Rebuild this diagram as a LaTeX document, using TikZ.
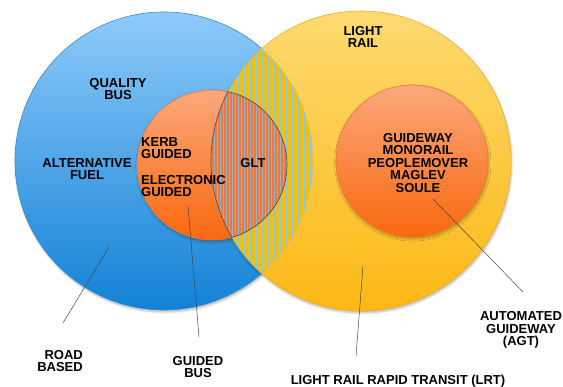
\documentclass[tikz,border=0pt]{standalone}
\usepackage{fontspec}
\setmainfont{Liberation Sans}
\usetikzlibrary{shadows.blur}

\definecolor{bluetop}{RGB}{142,202,250}
\definecolor{bluebot}{RGB}{18,130,214}
\definecolor{blueedge}{RGB}{60,140,200}
\definecolor{yeltop}{RGB}{253,218,112}
\definecolor{yelbot}{RGB}{252,184,20}
\definecolor{yeledge}{RGB}{235,175,40}
\definecolor{orgtop}{RGB}{251,168,124}
\definecolor{orgbot}{RGB}{250,104,14}
\definecolor{orgedge}{RGB}{235,120,60}
\definecolor{stripeblue}{RGB}{136,198,226}
\definecolor{stripeyel}{RGB}{245,192,10}
\definecolor{lensblue}{RGB}{138,184,210}
\definecolor{lensorg}{RGB}{240,120,58}
\definecolor{leader}{RGB}{70,70,70}

\tikzset{
  ring/.style={circle, inner sep=0pt, line width=0.6pt,
    blur shadow={shadow xshift=0.8pt, shadow yshift=-2pt, shadow blur steps=6, shadow opacity=28}},
  lbl/.style={inner sep=0pt, align=center, font=\bfseries\fontsize{13}{12.5}\selectfont},
  leaderline/.style={draw=leader, line width=0.5pt}
}

\begin{document}
\begin{tikzpicture}[x=1pt,y=1pt]
\useasboundingbox (0,0) rectangle (563,387);

% the two large sets
\node[ring, minimum size=298pt, top color=bluetop, bottom color=bluebot, draw=blueedge] (road) at (164,226) {};
\node[ring, minimum size=300pt, top color=yeltop, bottom color=yelbot, draw=yeledge] (rail) at (361,226) {};
% inner sets
\node[ring, minimum size=152pt, top color=orgtop, bottom color=orgbot, draw=orgedge] (agt) at (412,226) {};
\node[ring, minimum size=150pt, top color=orgtop, bottom color=orgbot, draw=orgedge] (guided) at (212,222) {};

% striped overlap of road based and light rail
\begin{scope}
  \clip (road.center) circle (149);
  \clip (rail.center) circle (150);
  \fill[stripeblue] (200,60) rectangle (330,390);
  \foreach \x in {200,203,...,330} \fill[stripeyel] (\x,60) rectangle +(1.5,330);
  \begin{scope}
    \clip (guided.center) circle (75);
    \fill[lensblue] (200,60) rectangle (330,390);
    \foreach \x in {200,203,...,330} \fill[lensorg] (\x,60) rectangle +(1.5,330);
  \end{scope}
\end{scope}
% outline of the GLT lens
\begin{scope}
  \clip (rail.center) circle (150);
  \draw[leader, line width=0.6pt] (guided.center) circle (75);
\end{scope}
\begin{scope}
  \clip (guided.center) circle (75);
  \draw[leader, line width=0.6pt] (rail.center) circle (150);
\end{scope}

% labels inside the circles
\node[lbl] (quality) at (118,298) {QUALITY\\BUS};
\node[lbl] (altfuel) at (87,218) {ALTERNATIVE\\FUEL};
\node[lbl, anchor=west, align=left] (kerb) at (141,239) {KERB\\GUIDED};
\node[lbl, anchor=west, align=left] (elec) at (141,201) {ELECTRONIC\\GUIDED};
\node[lbl] (glt) at (253,224) {GLT};
\node[lbl] (lightrail) at (363,350) {LIGHT\\RAIL};
\node[lbl] (modes) at (418,224) {GUIDEWAY\\MONORAIL\\PEOPLEMOVER\\MAGLEV\\SOULE};

% outside captions
\node[lbl, anchor=east, align=right] (roadlbl) at (83,26) {ROAD\\BASED};
\node[lbl] (buslbl) at (198,20) {GUIDED\\BUS};
\node[lbl] (lrtlbl) at (398,6) {LIGHT RAIL RAPID TRANSIT (LRT)};
\node[lbl] (agtlbl) at (521,57) {AUTOMATED\\GUIDEWAY\\(AGT)};

% leader lines
\coordinate (roadpt) at (109,140);
\coordinate (roadend) at (63,64);
\coordinate (buspt) at (188,181);
\coordinate (busend) at (199,50);
\coordinate (lrtpt) at (363,121);
\coordinate (lrtend) at (356,31);
\coordinate (agtpt) at (433,188);
\coordinate (agtend) at (523,95);
\draw[leaderline] (roadpt) -- (roadend);
\draw[leaderline] (buspt) -- (busend);
\draw[leaderline] (lrtpt) -- (lrtend);
\draw[leaderline] (agtpt) -- (agtend);
\end{tikzpicture}
\end{document}
